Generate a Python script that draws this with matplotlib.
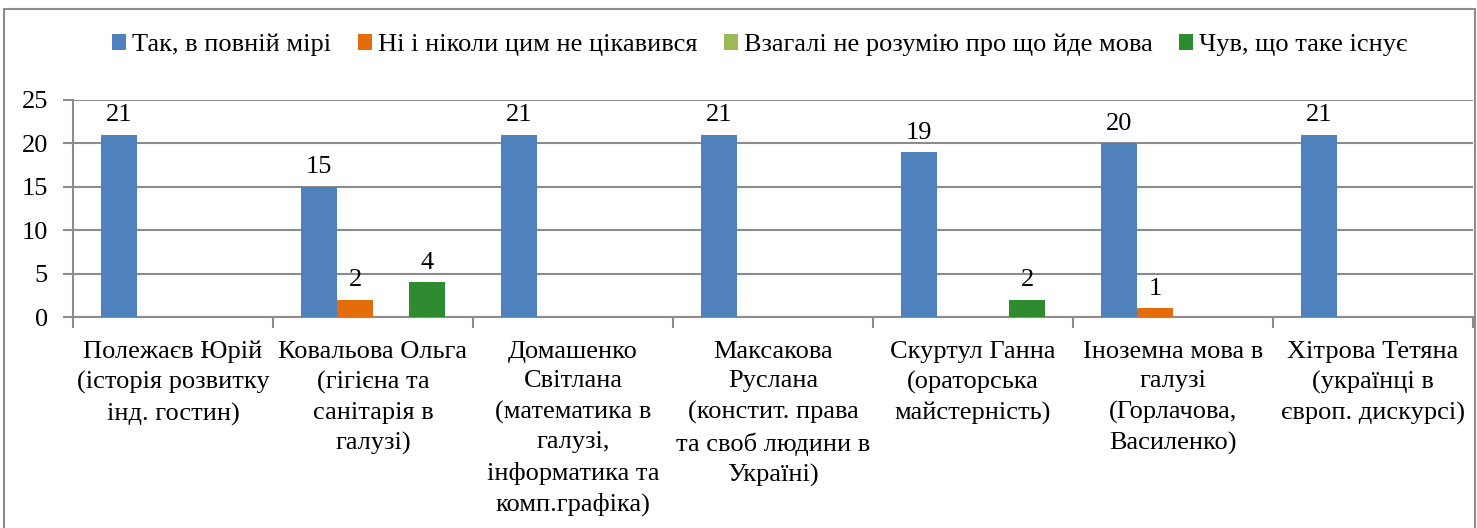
import numpy as np
import matplotlib.pyplot as plt
from matplotlib.patches import Rectangle

# Дані
categories = [
    "Полежаєв Юрій\n(історія розвитку\nінд. гостин)",
    "Ковальова Ольга\n(гігієна та\nсанітарія в\nгалузі)",
    "Домашенко\nСвітлана\n(математика в\nгалузі,\nінформатика та\nкомп.графіка)",
    "Максакова\nРуслана\n(констит. права\nта своб людини в\nУкраїні)",
    "Скуртул Ганна\n(ораторська\nмайстерність)",
    "Іноземна мова в\nгалузі\n(Горлачова,\nВасиленко)",
    "Хітрова Тетяна\n(українці в\nєвроп. дискурсі)",
]
series_names = [
    "Так, в повній мірі",
    "Ні і ніколи цим не цікавився",
    "Взагалі не розумію про що йде мова",
    "Чув, що таке існує",
]
tak = [21, 15, 21, 21, 19, 20, 21]
ni = [0, 2, 0, 0, 0, 1, 0]
vzagali = [0, 0, 0, 0, 0, 0, 0]
chuv = [0, 4, 0, 0, 2, 0, 0]
colors = ["#4F81BD", "#E46C0A", "#9BBB59", "#2E8B30"]

plt.rcParams['font.family'] = ['Liberation Serif', 'DejaVu Serif']
FONT = ['Liberation Serif', 'DejaVu Serif']
FS = 19

W, H = 1477, 528
fig = plt.figure(figsize=(W / 100, H / 100), dpi=100)

# Рамка діаграми
fig.patches.append(Rectangle((4 / W, -0.01), (W - 6) / W, (H - 9) / H + 0.01,
                             transform=fig.transFigure, fill=False,
                             edgecolor="#8c8c8c", linewidth=1.5))

ax = fig.add_axes([73 / W, (H - 317) / H, (1473 - 73) / W, (317 - 100) / H])

n = len(categories)
x = np.arange(n)
bw = 0.18
values = [tak, ni, vzagali, chuv]
for i, (vals, col, name) in enumerate(zip(values, colors, series_names)):
    pos = x + (i - 1.5) * bw
    ax.bar(pos, vals, width=bw, color=col, label=name, zorder=3)
    for p, v in zip(pos, vals):
        if v > 0:
            ax.annotate(str(v), (p, v), xytext=(0, 6), textcoords="offset points",
                        ha="center", va="bottom", fontsize=FS, family=FONT)

ax.set_xlim(-0.5, n - 0.5)
ax.set_ylim(0, 25)
ax.set_yticks(range(0, 26, 5))
ax.set_yticklabels([str(v) for v in range(0, 26, 5)], fontsize=FS, family=FONT)
ax.tick_params(axis="y", length=7, color="#8c8c8c", width=1.5, pad=11)
ax.grid(axis="y", color="#8c8c8c", linewidth=1.5, zorder=0)

ax.set_xticks(np.arange(-0.5, n, 1.0))
ax.set_xticklabels([])
ax.tick_params(axis="x", length=8, color="#8c8c8c", width=1.5)
ax.set_xticks(x, minor=True)
ax.set_xticklabels(categories, minor=True, fontsize=FS, family=FONT, linespacing=1.46)
ax.tick_params(axis="x", which="minor", length=0, pad=17)
for lbl in ax.get_xticklabels(minor=True):
    lbl.set_ha("center")
    lbl.set_multialignment("center")

for s in ["top", "right"]:
    ax.spines[s].set_visible(False)
for s in ["left", "bottom"]:
    ax.spines[s].set_color("#8c8c8c")
    ax.spines[s].set_linewidth(1.5)

fig.legend(loc="center", bbox_to_anchor=(760 / W, (H - 45) / H), ncol=4, frameon=False,
           prop={"family": FONT, "size": FS}, handlelength=0.53, handleheight=0.53,
           handletextpad=0.23, columnspacing=1.0)

fig.savefig("out.png", dpi=100)
